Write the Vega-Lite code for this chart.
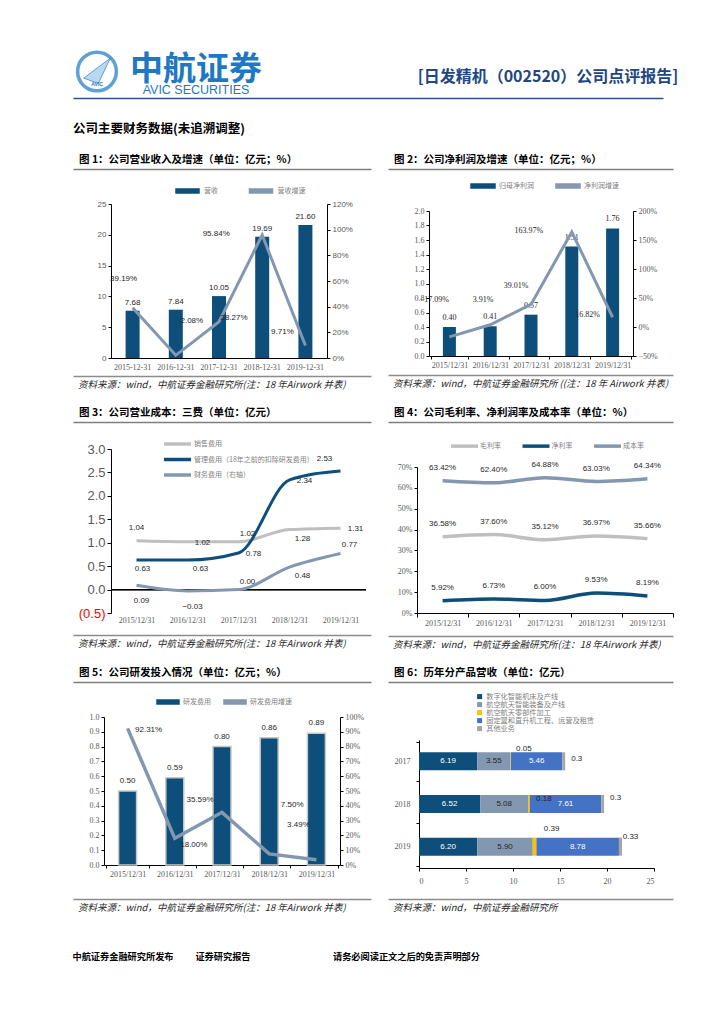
{
"$schema":"https://vega.github.io/schema/vega-lite/v6.json",
"background":"white",
"padding":{"left":70,"top":45,"right":0,"bottom":0},
"config":{
 "view":{"stroke":null},
 "font":"Noto Sans CJK SC",
 "axis":{"labelFont":"Liberation Serif","labelFontSize":8,"labelColor":"#595959","domainColor":"#000000","tickColor":"#000000","grid":false,"tickSize":3},
 "axisX":{"labelAngle":0},
 "legend":{"labelFont":"Noto Sans CJK SC","labelFontSize":7,"labelColor":"#7f7f7f"},
 "title":{"font":"Noto Sans CJK SC","fontWeight":"bold","fontSize":10.5,"anchor":"start","color":"#000000","offset":4},
 "text":{"font":"Liberation Sans","fontSize":8,"color":"#262626"}
},
"spacing":17,
"resolve":{"scale":{"color":"independent"},"legend":{"color":"independent"}},
"vconcat":[
 {"spacing":-3,"vconcat":[
   {"spacing":140,"hconcat":[
     {"spacing":0,"hconcat":[
       {"width":48,"height":43,"data":{"values":[{"a":1}]},"layer":[
         {"mark":{"type":"point","shape":"circle","size":1500,"filled":false,"stroke":"#1e78c2","strokeWidth":3.5},"encoding":{}},
         {"mark":{"type":"point","shape":"M-1,0.5L1,-1L0.1,0.9Z","size":700,"filled":true,"fill":"#9cc9ec","stroke":"#1e78c2","strokeWidth":1},"encoding":{}},
         {"mark":{"type":"text","text":"AVIC","fontSize":5,"dy":12,"color":"#1e78c2","fontWeight":"bold"},"encoding":{}}
       ]},
       {"width":144,"height":43,"data":{"values":[{"a":1}]},"layer":[
         {"mark":{"type":"text","text":"中航证券","fontSize":33,"fontWeight":"bold","font":"Noto Sans CJK SC","color":"#1e78c2","dy":-1.5},"encoding":{}},
         {"mark":{"type":"text","text":"AVIC SECURITIES","fontSize":12.5,"font":"Liberation Sans","color":"#1e78c2","dy":18.5},"encoding":{}}
       ]}
     ]},
     {"width":280,"height":43,"data":{"values":[{"a":1}]},"mark":{"type":"text","text":"[日发精机（002520）公司点评报告]","fontSize":16,"fontWeight":"bold","font":"Noto Sans CJK SC","color":"#24467f","dy":5.5},"encoding":{}}
   ]},
   {"width":590,"height":8,"data":{"values":[{"v":0}]},"mark":{"type":"point","opacity":0,"size":0},"encoding":{"x":{"field":"v","type":"quantitative","scale":{"domain":[0,1]},"axis":{"orient":"top","labels":false,"ticks":false,"title":null,"domainColor":"#2e4f8f","domainWidth":1.5}}}}
 ]},
 {"title":{"text":"公司主要财务数据(未追溯调整)","fontSize":12.5,"offset":19},"spacing":17,
  "resolve":{"scale":{"color":"independent"},"legend":{"color":"independent"}},
  "hconcat":[
   {"spacing":4,"resolve":{"scale":{"color":"independent"},"legend":{"color":"independent"}},"vconcat":[
     {"width":298,"height":12,"title":{"text":"图 1：公司营业收入及增速（单位：亿元；%）","dx":6},"data":{"values":[{"v":0}]},"mark":{"type":"point","opacity":0,"size":0},"encoding":{"x":{"field":"v","type":"quantitative","scale":{"domain":[0,1]},"axis":{"orient":"top","labels":false,"ticks":false,"title":null,"domainColor":"#7f7f7f","domainWidth":1.5}}}},
     {"hconcat":[
      {"width":38,"height":1,"data":{"values":[{"a":1}]},"mark":{"type":"point","opacity":0,"size":0},"encoding":{}},
      {"width":216,"height":154,
      "data":{"values":[
        {"d":"2015-12-31","rev":7.68,"g":0.3919},
        {"d":"2016-12-31","rev":7.84,"g":0.0208},
        {"d":"2017-12-31","rev":10.05,"g":0.2827},
        {"d":"2018-12-31","rev":19.69,"g":0.9584},
        {"d":"2019-12-31","rev":21.60,"g":0.0971}]},
      "encoding":{"x":{"field":"d","type":"nominal","axis":{"title":null,"ticks":false,"labelPadding":5}}},
      "layer":[
        {"encoding":{"y":{"field":"rev","type":"quantitative","scale":{"domain":[0,25]},"axis":{"title":null,"values":[0,5,10,15,20,25],"labelFont":"Liberation Sans"}}},
         "layer":[
          {"mark":{"type":"bar","width":14},"encoding":{"color":{"datum":"营收","type":"nominal","scale":{"domain":["营收","营收增速"],"range":["#0d4f7a","#8497b0"]},"legend":{"title":null,"orient":"none","legendX":70.5,"legendY":-19,"direction":"horizontal","symbolType":"M-2.3,-0.4H2.3V0.4H-2.3Z","symbolSize":100,"columnPadding":27.5,"labelOffset":10.5}}}},
          {"mark":{"type":"text","dy":-8},"encoding":{"text":{"field":"rev","type":"quantitative","format":".2f"}}}
         ]},
        {"encoding":{"y":{"field":"g","type":"quantitative","scale":{"domain":[0,1.2]},"axis":{"title":null,"orient":"right","values":[0,0.2,0.4,0.6,0.8,1,1.2],"format":".0%","labelFont":"Liberation Sans"}}},
         "layer":[
          {"mark":{"type":"line","strokeWidth":3},"encoding":{"color":{"datum":"营收增速","type":"nominal"}}},
          {"transform":[{"filter":"datum.d=='2015-12-31'"}],"mark":{"type":"text","dx":-9,"dy":-29},"encoding":{"text":{"field":"g","type":"quantitative","format":".2%"}}},
          {"transform":[{"filter":"datum.d=='2016-12-31'"}],"mark":{"type":"text","dx":16,"dy":-34},"encoding":{"text":{"field":"g","type":"quantitative","format":".2%"}}},
          {"transform":[{"filter":"datum.d=='2017-12-31'"}],"mark":{"type":"text","dx":15,"dy":-4},"encoding":{"text":{"field":"g","type":"quantitative","format":".2%"}}},
          {"transform":[{"filter":"datum.d=='2018-12-31'"}],"mark":{"type":"text","dx":-46,"dy":-1},"encoding":{"text":{"field":"g","type":"quantitative","format":".2%"}}},
          {"transform":[{"filter":"datum.d=='2019-12-31'"}],"mark":{"type":"text","dx":-23,"dy":-14},"encoding":{"text":{"field":"g","type":"quantitative","format":".2%"}}}
         ]}
      ],
      "resolve":{"scale":{"y":"independent"}}}
     ],"spacing":0,"bounds":"flush","resolve":{"scale":{"color":"independent"},"legend":{"color":"independent"}}},
     {"width":298,"height":1,"title":{"text":"资料来源：wind，中航证券金融研究所(注：18 年Airwork 并表)","orient":"bottom","fontSize":9.5,"fontWeight":"normal","fontStyle":"italic","color":"#262626","dx":5,"offset":4},"data":{"values":[{"v":0}]},"mark":{"type":"point","opacity":0,"size":0},"encoding":{"x":{"field":"v","type":"quantitative","scale":{"domain":[0,1]},"axis":{"orient":"bottom","labels":false,"ticks":false,"title":null,"domainColor":"#8c8c8c","domainWidth":1.5}}}}
   ]},
   {"spacing":5,"resolve":{"scale":{"color":"independent"},"legend":{"color":"independent"}},"vconcat":[
     {"width":285,"height":6,"title":{"text":"图 2：公司净利润及增速（单位：亿元；%）","dx":6},"data":{"values":[{"v":0}]},"mark":{"type":"point","opacity":0,"size":0},"encoding":{"x":{"field":"v","type":"quantitative","scale":{"domain":[0,1]},"axis":{"orient":"top","labels":false,"ticks":false,"title":null,"domainColor":"#7f7f7f","domainWidth":1.5}}}},
     {"hconcat":[
      {"width":41,"height":1,"data":{"values":[{"a":1}]},"mark":{"type":"point","opacity":0,"size":0},"encoding":{}},
      {"width":204,"height":145,
      "data":{"values":[
        {"d":"2015/12/31","np":0.40,"g":-0.1709},
        {"d":"2016/12/31","np":0.41,"g":0.0391},
        {"d":"2017/12/31","np":0.57,"g":0.3901},
        {"d":"2018/12/31","np":1.51,"g":1.6397},
        {"d":"2019/12/31","np":1.76,"g":0.1682}]},
      "encoding":{"x":{"field":"d","type":"nominal","axis":{"title":null,"tickBand":"extent","labelPadding":2}}},
      "layer":[
        {"encoding":{"y":{"field":"np","type":"quantitative","scale":{"domain":[0,2]},"axis":{"title":null,"values":[0,0.2,0.4,0.6,0.8,1,1.2,1.4,1.6,1.8,2],"format":".1f"}}},
         "layer":[
          {"mark":{"type":"bar","width":13},"encoding":{"color":{"datum":"归母净利润","type":"nominal","scale":{"domain":["归母净利润","净利润增速"],"range":["#0d4f7a","#8497b0"]},"legend":{"title":null,"orient":"none","legendX":48,"legendY":-31,"direction":"horizontal","symbolType":"M-2.4,-0.4H2.4V0.4H-2.4Z","symbolSize":100,"columnPadding":19,"labelOffset":10}}}},
          {"mark":{"type":"text","dy":-9,"font":"Liberation Serif"},"encoding":{"text":{"field":"np","type":"quantitative","format":".2f"}}}
         ]},
        {"encoding":{"y":{"field":"g","type":"quantitative","scale":{"domain":[-0.5,2]},"axis":{"title":null,"orient":"right","values":[-0.5,0,0.5,1,1.5,2],"format":".0%"}}},
         "layer":[
          {"mark":{"type":"line","strokeWidth":3},"encoding":{"color":{"datum":"净利润增速","type":"nominal"}}},
          {"transform":[{"filter":"datum.d=='2015/12/31'"}],"mark":{"type":"text","font":"Liberation Serif","dx":-15,"dy":-37},"encoding":{"text":{"field":"g","type":"quantitative","format":".2%"}}},
          {"transform":[{"filter":"datum.d=='2016/12/31'"}],"mark":{"type":"text","font":"Liberation Serif","dx":-7,"dy":-25},"encoding":{"text":{"field":"g","type":"quantitative","format":".2%"}}},
          {"transform":[{"filter":"datum.d=='2017/12/31'"}],"mark":{"type":"text","font":"Liberation Serif","dx":-15,"dy":-18},"encoding":{"text":{"field":"g","type":"quantitative","format":".2%"}}},
          {"transform":[{"filter":"datum.d=='2018/12/31'"}],"mark":{"type":"text","font":"Liberation Serif","dx":-43,"dy":-1},"encoding":{"text":{"field":"g","type":"quantitative","format":".2%"}}},
          {"transform":[{"filter":"datum.d=='2019/12/31'"}],"mark":{"type":"text","font":"Liberation Serif","dx":-25,"dy":-2},"encoding":{"text":{"field":"g","type":"quantitative","format":".2%"}}}
         ]}
      ],
      "resolve":{"scale":{"y":"independent"}}}
     ],"spacing":0,"bounds":"flush","resolve":{"scale":{"color":"independent"},"legend":{"color":"independent"}}},
     {"width":285,"height":1,"title":{"text":"资料来源：wind，中航证券金融研究所 ((注：18 年 Airwork 并表)","orient":"bottom","fontSize":9.5,"fontWeight":"normal","fontStyle":"italic","color":"#262626","dx":5,"offset":4},"data":{"values":[{"v":0}]},"mark":{"type":"point","opacity":0,"size":0},"encoding":{"x":{"field":"v","type":"quantitative","scale":{"domain":[0,1]},"axis":{"orient":"bottom","labels":false,"ticks":false,"title":null,"domainColor":"#8c8c8c","domainWidth":1.5}}}}
   ]}
 ]},
 {"spacing":17,
  "resolve":{"scale":{"color":"independent"},"legend":{"color":"independent"}},
  "hconcat":[
   {"spacing":10,"resolve":{"scale":{"color":"independent"},"legend":{"color":"independent"}},"vconcat":[
     {"width":298,"height":6,"title":{"text":"图 3：公司营业成本：三费（单位：亿元）","dx":6},"data":{"values":[{"v":0}]},"mark":{"type":"point","opacity":0,"size":0},"encoding":{"x":{"field":"v","type":"quantitative","scale":{"domain":[0,1]},"axis":{"orient":"top","labels":false,"ticks":false,"title":null,"domainColor":"#7f7f7f","domainWidth":1.5}}}},
     {"hconcat":[
      {"width":38,"height":1,"data":{"values":[{"a":1}]},"mark":{"type":"point","opacity":0,"size":0},"encoding":{}},
      {"width":255,"height":164,
      "data":{"values":[
        {"d":"2015/12/31","s":"销售费用","v":1.04},
        {"d":"2016/12/31","s":"销售费用","v":1.02},
        {"d":"2017/12/31","s":"销售费用","v":1.02},
        {"d":"2018/12/31","s":"销售费用","v":1.28},
        {"d":"2019/12/31","s":"销售费用","v":1.31},
        {"d":"2015/12/31","s":"管理费用（18年之前的扣除研发费用）","v":0.63},
        {"d":"2016/12/31","s":"管理费用（18年之前的扣除研发费用）","v":0.63},
        {"d":"2017/12/31","s":"管理费用（18年之前的扣除研发费用）","v":0.78},
        {"d":"2018/12/31","s":"管理费用（18年之前的扣除研发费用）","v":2.34},
        {"d":"2019/12/31","s":"管理费用（18年之前的扣除研发费用）","v":2.53},
        {"d":"2015/12/31","s":"财务费用（右轴）","v":0.09},
        {"d":"2016/12/31","s":"财务费用（右轴）","v":-0.03},
        {"d":"2017/12/31","s":"财务费用（右轴）","v":0.00},
        {"d":"2018/12/31","s":"财务费用（右轴）","v":0.48},
        {"d":"2019/12/31","s":"财务费用（右轴）","v":0.77}]},
      "encoding":{"y":{"field":"v","type":"quantitative","scale":{"domain":[-0.5,3]},"axis":{"title":null,"values":[-0.5,0,0.5,1,1.5,2,2.5,3],"labelOverlap":false,"labelExpr":"datum.value < 0 ? '(' + format(-datum.value, '.1f') + ')' : format(datum.value, '.1f')","labelColor":{"condition":{"test":"datum.value < 0","value":"#ff0000"},"value":"#595959"},"labelFontSize":13,"labelFont":"Liberation Sans","tickSize":4}}},
      "layer":[
        {"mark":{"type":"rule","color":"#000000","strokeWidth":1},"encoding":{"y":{"datum":0,"type":"quantitative","axis":{"title":null,"values":[-0.5,0,0.5,1,1.5,2,2.5,3],"labelOverlap":false,"labelExpr":"datum.value < 0 ? '(' + format(-datum.value, '.1f') + ')' : format(datum.value, '.1f')","labelColor":{"condition":{"test":"datum.value < 0","value":"#ff0000"},"value":"#595959"},"labelFontSize":13,"labelFont":"Liberation Sans","tickSize":4}}}},
        {"encoding":{
           "x":{"field":"d","type":"nominal","axis":{"title":null,"domain":false,"ticks":false,"labelPadding":3}}},
         "layer":[
          {"mark":{"type":"line","interpolate":"monotone","strokeWidth":3},"encoding":{"color":{"field":"s","type":"nominal","scale":{"domain":["销售费用","管理费用（18年之前的扣除研发费用）","财务费用（右轴）"],"range":["#bfbfbf","#0d4f7a","#8497b0"]},"legend":{"title":null,"orient":"none","legendX":60.5,"legendY":-11,"direction":"vertical","symbolType":"M-2.5,-0.15H2.5V0.15H-2.5Z","symbolSize":100,"symbolStrokeWidth":2,"rowPadding":4.5,"labelOffset":10.5}}}},
          {"transform":[{"filter":"indexof(['管2016','财2018','销2018'], substring(datum.s,0,1)+substring(datum.d,0,4)) >= 0"}],"mark":{"type":"text","dx":13,"dy":9},"encoding":{"text":{"field":"v","type":"quantitative","format":".2f"}}},
          {"transform":[{"filter":"indexof(['管2017','管2018','销2016','销2019'], substring(datum.s,0,1)+substring(datum.d,0,4)) >= 0"}],"mark":{"type":"text","dx":15,"dy":1},"encoding":{"text":{"field":"v","type":"quantitative","format":".2f"}}},
          {"transform":[{"filter":"indexof(['管2015'], substring(datum.s,0,1)+substring(datum.d,0,4)) >= 0"}],"mark":{"type":"text","dx":6,"dy":9},"encoding":{"text":{"field":"v","type":"quantitative","format":".2f"}}},
          {"transform":[{"filter":"indexof(['财2015','财2016'], substring(datum.s,0,1)+substring(datum.d,0,4)) >= 0"}],"mark":{"type":"text","dx":5,"dy":16},"encoding":{"text":{"field":"v","type":"quantitative","format":".2f"}}},
          {"transform":[{"filter":"indexof(['销2017','财2017','财2019'], substring(datum.s,0,1)+substring(datum.d,0,4)) >= 0"}],"mark":{"type":"text","dx":9,"dy":-8},"encoding":{"text":{"field":"v","type":"quantitative","format":".2f"}}},
          {"transform":[{"filter":"indexof(['销2015'], substring(datum.s,0,1)+substring(datum.d,0,4)) >= 0"}],"mark":{"type":"text","dx":0,"dy":-13},"encoding":{"text":{"field":"v","type":"quantitative","format":".2f"}}},
          {"transform":[{"filter":"indexof(['管2019'], substring(datum.s,0,1)+substring(datum.d,0,4)) >= 0"}],"mark":{"type":"text","dx":-16,"dy":-12},"encoding":{"text":{"field":"v","type":"quantitative","format":".2f"}}}
         ]}
      ]}
     ],"spacing":0,"bounds":"flush","resolve":{"scale":{"color":"independent"},"legend":{"color":"independent"}}},
     {"width":298,"height":1,"title":{"text":"资料来源：wind，中航证券金融研究所(注：18 年Airwork 并表)","orient":"bottom","fontSize":9.5,"fontWeight":"normal","fontStyle":"italic","color":"#262626","dx":5,"offset":4},"data":{"values":[{"v":0}]},"mark":{"type":"point","opacity":0,"size":0},"encoding":{"x":{"field":"v","type":"quantitative","scale":{"domain":[0,1]},"axis":{"orient":"bottom","labels":false,"ticks":false,"title":null,"domainColor":"#8c8c8c","domainWidth":1.5}}}}
   ]},
   {"spacing":8,"resolve":{"scale":{"color":"independent"},"legend":{"color":"independent"}},"vconcat":[
     {"width":285,"height":10,"title":{"text":"图 4：公司毛利率、净利润率及成本率（单位：%）","dx":6},"data":{"values":[{"v":0}]},"mark":{"type":"point","opacity":0,"size":0},"encoding":{"x":{"field":"v","type":"quantitative","scale":{"domain":[0,1]},"axis":{"orient":"top","labels":false,"ticks":false,"title":null,"domainColor":"#7f7f7f","domainWidth":1.5}}}},
     {"hconcat":[
      {"width":29,"height":1,"data":{"values":[{"a":1}]},"mark":{"type":"point","opacity":0,"size":0},"encoding":{}},
      {"width":256,"height":146,
      "data":{"values":[
        {"d":"2015/12/31","s":"毛利率","v":0.3658},
        {"d":"2016/12/31","s":"毛利率","v":0.3760},
        {"d":"2017/12/31","s":"毛利率","v":0.3512},
        {"d":"2018/12/31","s":"毛利率","v":0.3697},
        {"d":"2019/12/31","s":"毛利率","v":0.3566},
        {"d":"2015/12/31","s":"净利率","v":0.0592},
        {"d":"2016/12/31","s":"净利率","v":0.0673},
        {"d":"2017/12/31","s":"净利率","v":0.0600},
        {"d":"2018/12/31","s":"净利率","v":0.0953},
        {"d":"2019/12/31","s":"净利率","v":0.0819},
        {"d":"2015/12/31","s":"成本率","v":0.6342},
        {"d":"2016/12/31","s":"成本率","v":0.6240},
        {"d":"2017/12/31","s":"成本率","v":0.6488},
        {"d":"2018/12/31","s":"成本率","v":0.6303},
        {"d":"2019/12/31","s":"成本率","v":0.6434}]},
      "encoding":{
        "x":{"field":"d","type":"nominal","axis":{"title":null,"tickBand":"extent","tickSize":4,"labelPadding":2}},
        "y":{"field":"v","type":"quantitative","scale":{"domain":[0,0.7]},"axis":{"title":null,"values":[0,0.1,0.2,0.3,0.4,0.5,0.6,0.7],"format":".0%"}}},
      "layer":[
        {"mark":{"type":"line","interpolate":"monotone","strokeWidth":3.5},"encoding":{"color":{"field":"s","type":"nominal","scale":{"domain":["毛利率","净利率","成本率"],"range":["#bfbfbf","#0d4f7a","#8497b0"]},"legend":{"title":null,"orient":"none","legendX":41.5,"legendY":-27,"direction":"horizontal","symbolType":"M-2.5,-0.15H2.5V0.15H-2.5Z","symbolSize":100,"symbolStrokeWidth":2,"columnPadding":17.5,"labelOffset":9.5}}}},
        {"mark":{"type":"text","dy":-13},"encoding":{"text":{"field":"v","type":"quantitative","format":".2%"}}}
      ]}
     ],"spacing":0,"bounds":"flush","resolve":{"scale":{"color":"independent"},"legend":{"color":"independent"}}},
     {"width":285,"height":1,"title":{"text":"资料来源：wind，中航证券金融研究所(注：18 年Airwork 并表)","orient":"bottom","fontSize":9.5,"fontWeight":"normal","fontStyle":"italic","color":"#262626","dx":5,"offset":4},"data":{"values":[{"v":0}]},"mark":{"type":"point","opacity":0,"size":0},"encoding":{"x":{"field":"v","type":"quantitative","scale":{"domain":[0,1]},"axis":{"orient":"bottom","labels":false,"ticks":false,"title":null,"domainColor":"#8c8c8c","domainWidth":1.5}}}}
   ]}
 ]},
 {"spacing":17,
  "resolve":{"scale":{"color":"independent"},"legend":{"color":"independent"}},
  "hconcat":[
   {"spacing":13,"resolve":{"scale":{"color":"independent"},"legend":{"color":"independent"}},"vconcat":[
     {"width":298,"height":1,"title":{"text":"图 5：公司研发投入情况（单位：亿元；%）","dx":6},"data":{"values":[{"v":0}]},"mark":{"type":"point","opacity":0,"size":0},"encoding":{"x":{"field":"v","type":"quantitative","scale":{"domain":[0,1]},"axis":{"orient":"top","labels":false,"ticks":false,"title":null,"domainColor":"#7f7f7f","domainWidth":1.5}}}},
     {"hconcat":[
      {"width":31,"height":1,"data":{"values":[{"a":1}]},"mark":{"type":"point","opacity":0,"size":0},"encoding":{}},
      {"width":236,"height":148,
      "data":{"values":[
        {"d":"2015/12/31","rd":0.50,"g":0.9231},
        {"d":"2016/12/31","rd":0.59,"g":0.1800},
        {"d":"2017/12/31","rd":0.80,"g":0.3559},
        {"d":"2018/12/31","rd":0.86,"g":0.0750},
        {"d":"2019/12/31","rd":0.89,"g":0.0349}]},
      "encoding":{"x":{"field":"d","type":"nominal","axis":{"title":null,"tickBand":"extent","labelPadding":2}}},
      "layer":[
        {"encoding":{"y":{"field":"rd","type":"quantitative","scale":{"domain":[0,1]},"axis":{"title":null,"values":[0,0.1,0.2,0.3,0.4,0.5,0.6,0.7,0.8,0.9,1],"format":".1f"}}},
         "layer":[
          {"mark":{"type":"bar","width":18,"stroke":"#c8c8c8","strokeWidth":1.5},"encoding":{"color":{"datum":"研发费用","type":"nominal","scale":{"domain":["研发费用","研发费用增速"],"range":["#0d4f7a","#8497b0"]},"legend":{"title":null,"orient":"none","legendX":58,"legendY":-21,"direction":"horizontal","symbolType":"M-2.2,-0.4H2.2V0.4H-2.2Z","symbolSize":100,"columnPadding":10,"labelOffset":9}}}},
          {"mark":{"type":"text","dy":-10},"encoding":{"text":{"field":"rd","type":"quantitative","format":".2f"}}}
         ]},
        {"encoding":{"y":{"field":"g","type":"quantitative","scale":{"domain":[0,1]},"axis":{"title":null,"orient":"right","values":[0,0.1,0.2,0.3,0.4,0.5,0.6,0.7,0.8,0.9,1],"format":".0%"}}},
         "layer":[
          {"mark":{"type":"line","strokeWidth":3.5},"encoding":{"color":{"datum":"研发费用增速","type":"nominal"}}},
          {"transform":[{"filter":"datum.d=='2015/12/31'"}],"mark":{"type":"text","dx":21,"dy":2},"encoding":{"text":{"field":"g","type":"quantitative","format":".2%"}}},
          {"transform":[{"filter":"datum.d=='2016/12/31'"}],"mark":{"type":"text","dx":19,"dy":7},"encoding":{"text":{"field":"g","type":"quantitative","format":".2%"}}},
          {"transform":[{"filter":"datum.d=='2017/12/31'"}],"mark":{"type":"text","dx":-22,"dy":-12},"encoding":{"text":{"field":"g","type":"quantitative","format":".2%"}}},
          {"transform":[{"filter":"datum.d=='2018/12/31'"}],"mark":{"type":"text","dx":23,"dy":-49},"encoding":{"text":{"field":"g","type":"quantitative","format":".2%"}}},
          {"transform":[{"filter":"datum.d=='2019/12/31'"}],"mark":{"type":"text","dx":-18,"dy":-35},"encoding":{"text":{"field":"g","type":"quantitative","format":".2%"}}}
         ]}
      ],
      "resolve":{"scale":{"y":"independent"}}}
     ],"spacing":0,"bounds":"flush","resolve":{"scale":{"color":"independent"},"legend":{"color":"independent"}}},
     {"width":298,"height":8,"title":{"text":"资料来源：wind，中航证券金融研究所(注：18 年Airwork 并表)","orient":"bottom","fontSize":9.5,"fontWeight":"normal","fontStyle":"italic","color":"#262626","dx":5,"offset":4},"data":{"values":[{"v":0}]},"mark":{"type":"point","opacity":0,"size":0},"encoding":{"x":{"field":"v","type":"quantitative","scale":{"domain":[0,1]},"axis":{"orient":"bottom","labels":false,"ticks":false,"title":null,"domainColor":"#8c8c8c","domainWidth":1.5}}}}
   ]},
   {"spacing":6,"resolve":{"scale":{"color":"independent"},"legend":{"color":"independent"}},"vconcat":[
     {"width":285,"height":5,"title":{"text":"图 6：历年分产品营收（单位：亿元）","dx":6},"data":{"values":[{"v":0}]},"mark":{"type":"point","opacity":0,"size":0},"encoding":{"x":{"field":"v","type":"quantitative","scale":{"domain":[0,1]},"axis":{"orient":"top","labels":false,"ticks":false,"title":null,"domainColor":"#7f7f7f","domainWidth":1.5}}}},
     {"hconcat":[
      {"width":31,"height":1,"data":{"values":[{"a":1}]},"mark":{"type":"point","opacity":0,"size":0},"encoding":{}},
      {"width":235,"height":128,
      "data":{"values":[
        {"y":"2017","c":"数字化智能机床及产线","rank":1,"v":6.19},
        {"y":"2017","c":"航空航天智能装备及产线","rank":2,"v":3.55},
        {"y":"2017","c":"航空航天零部件加工","rank":3,"v":0.05},
        {"y":"2017","c":"固定翼和直升机工程、运营及租赁","rank":4,"v":5.46},
        {"y":"2017","c":"其他业务","rank":5,"v":0.3},
        {"y":"2018","c":"数字化智能机床及产线","rank":1,"v":6.52},
        {"y":"2018","c":"航空航天智能装备及产线","rank":2,"v":5.08},
        {"y":"2018","c":"航空航天零部件加工","rank":3,"v":0.18},
        {"y":"2018","c":"固定翼和直升机工程、运营及租赁","rank":4,"v":7.61},
        {"y":"2018","c":"其他业务","rank":5,"v":0.3},
        {"y":"2019","c":"数字化智能机床及产线","rank":1,"v":6.20},
        {"y":"2019","c":"航空航天智能装备及产线","rank":2,"v":5.90},
        {"y":"2019","c":"航空航天零部件加工","rank":3,"v":0.39},
        {"y":"2019","c":"固定翼和直升机工程、运营及租赁","rank":4,"v":8.78},
        {"y":"2019","c":"其他业务","rank":5,"v":0.33}]},
      "encoding":{
        "y":{"field":"y","type":"nominal","axis":{"title":null,"tickBand":"extent","labelPadding":6}},
        "x":{"field":"v","type":"quantitative","stack":"zero","scale":{"domain":[0,25]},"axis":{"title":null,"values":[0,5,10,15,20,25],"labelPadding":6}},
        "order":{"field":"rank","type":"quantitative"},
        "detail":{"field":"c","type":"nominal"}},
      "layer":[
        {"mark":{"type":"bar","height":18},"encoding":{"color":{"field":"c","type":"nominal","scale":{"domain":["数字化智能机床及产线","航空航天智能装备及产线","航空航天零部件加工","固定翼和直升机工程、运营及租赁","其他业务"],"range":["#0d4f7a","#8497b0","#ffc000","#4472c4","#a5a5a5"]},"legend":{"title":null,"orient":"none","legendX":57,"legendY":-47,"direction":"vertical","symbolType":"square","symbolSize":25,"labelFontSize":7.2,"rowPadding":0,"labelOffset":3}}}},
        {"mark":{"type":"text"},"encoding":{"x":{"field":"v","type":"quantitative","stack":"zero","bandPosition":0.5},"text":{"condition":{"test":"datum.rank==3||datum.rank==5","value":""},"field":"v","type":"quantitative","format":".2f"},"color":{"condition":{"test":"datum.rank==2","value":"#262626"},"value":"#ffffff"}}},
        {"mark":{"type":"text","dx":13,"dy":-12},"encoding":{"x":{"field":"v","type":"quantitative","stack":"zero","bandPosition":0.5},"text":{"condition":{"test":"datum.rank==3&&datum.y=='2017'","field":"v","type":"quantitative","format":"~g"},"value":""}}},
        {"mark":{"type":"text","dx":15,"dy":-5},"encoding":{"x":{"field":"v","type":"quantitative","stack":"zero","bandPosition":0.5},"text":{"condition":{"test":"datum.rank==3&&datum.y=='2018'","field":"v","type":"quantitative","format":"~g"},"value":""}}},
        {"mark":{"type":"text","dx":17,"dy":-18},"encoding":{"x":{"field":"v","type":"quantitative","stack":"zero","bandPosition":0.5},"text":{"condition":{"test":"datum.rank==3&&datum.y=='2019'","field":"v","type":"quantitative","format":"~g"},"value":""}}},
        {"mark":{"type":"text","dx":13,"dy":-2},"encoding":{"x":{"field":"v","type":"quantitative","stack":"zero","bandPosition":0.5},"text":{"condition":{"test":"datum.rank==5&&datum.y=='2017'","field":"v","type":"quantitative","format":"~g"},"value":""}}},
        {"mark":{"type":"text","dx":13,"dy":-6},"encoding":{"x":{"field":"v","type":"quantitative","stack":"zero","bandPosition":0.5},"text":{"condition":{"test":"datum.rank==5&&datum.y=='2018'","field":"v","type":"quantitative","format":"~g"},"value":""}}},
        {"mark":{"type":"text","dx":10,"dy":-10},"encoding":{"x":{"field":"v","type":"quantitative","stack":"zero","bandPosition":0.5},"text":{"condition":{"test":"datum.rank==5&&datum.y=='2019'","field":"v","type":"quantitative","format":"~g"},"value":""}}}
      ]}
     ],"spacing":0,"bounds":"flush","resolve":{"scale":{"color":"independent"},"legend":{"color":"independent"}}},
     {"width":285,"height":8,"title":{"text":"资料来源：wind，中航证券金融研究所","orient":"bottom","fontSize":9.5,"fontWeight":"normal","fontStyle":"italic","color":"#262626","dx":5,"offset":4},"data":{"values":[{"v":0}]},"mark":{"type":"point","opacity":0,"size":0},"encoding":{"x":{"field":"v","type":"quantitative","scale":{"domain":[0,1]},"axis":{"orient":"bottom","labels":false,"ticks":false,"title":null,"domainColor":"#8c8c8c","domainWidth":1.5}}}}
   ]}
 ]},
 {"spacing":21,"hconcat":[
   {"width":100,"height":54,"data":{"values":[{"a":1}]},"mark":{"type":"text","text":"中航证券金融研究所发布","fontSize":9.2,"fontWeight":"bold","font":"Noto Sans CJK SC","color":"#000000"},"encoding":{}},
   {"width":56,"height":54,"data":{"values":[{"a":1}]},"mark":{"type":"text","text":"证券研究报告","fontSize":9.2,"fontWeight":"bold","font":"Noto Sans CJK SC","color":"#000000"},"encoding":{}},
   {"width":269,"height":54,"data":{"values":[{"a":1}]},"mark":{"type":"text","text":"请务必阅读正文之后的免责声明部分","fontSize":9.2,"fontWeight":"bold","font":"Noto Sans CJK SC","color":"#000000"},"encoding":{}}
 ]}
]
}
